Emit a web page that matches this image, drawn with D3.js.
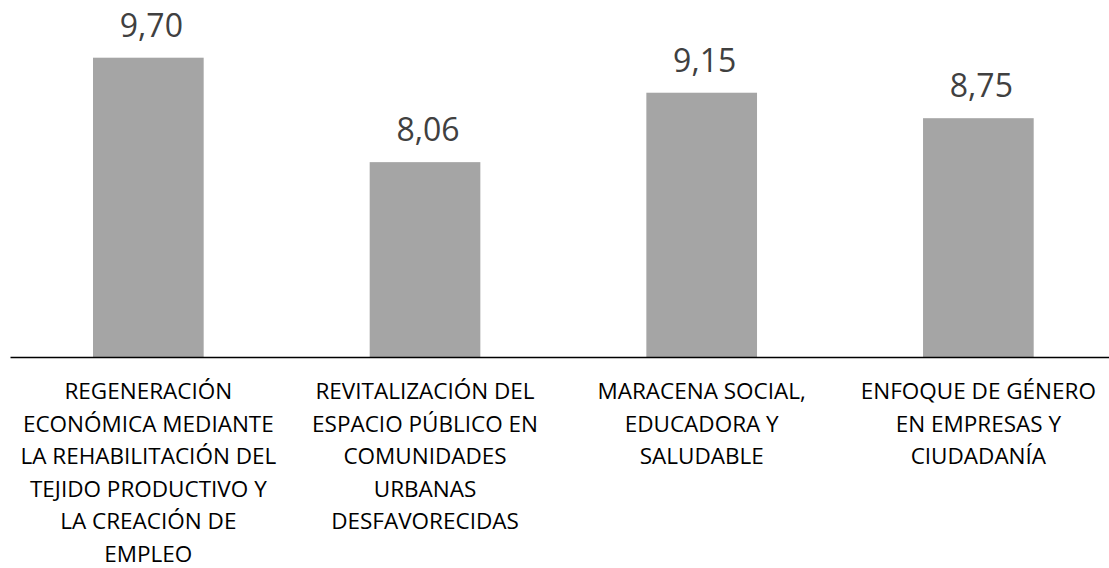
<!DOCTYPE html>
<html>
<head>
<meta charset="utf-8">
<script src="https://cdn.jsdelivr.net/npm/d3@7"></script>
<style>
  html, body { margin: 0; padding: 0; background: #fff; }
  svg { display: block; }
</style>
</head>
<body>
<svg id="chart" width="1109" height="568"></svg>
<script>
// Programme lines (each category label split into its display lines)
const categories = [
  "Regeneración económica",
  "Revitalización del espacio público",
  "Maracena social",
  "Enfoque de género"
];
const categoryLines = [
  ["REGENERACIÓN", "ECONÓMICA MEDIANTE", "LA REHABILITACIÓN DEL", "TEJIDO PRODUCTIVO Y", "LA CREACIÓN DE", "EMPLEO"],
  ["REVITALIZACIÓN DEL", "ESPACIO PÚBLICO EN", "COMUNIDADES", "URBANAS", "DESFAVORECIDAS"],
  ["MARACENA SOCIAL,", "EDUCADORA Y", "SALUDABLE"],
  ["ENFOQUE DE GÉNERO", "EN EMPRESAS Y", "CIUDADANÍA"]
];
// Score per line
const scores = [9.70, 8.06, 9.15, 8.75];
const yDomain = [5, 10];

const svg = d3.select("#chart");

const x = d3.scaleBand()
  .domain(categories)
  .range([10, 1116.7])
  .paddingInner(0.6)
  .paddingOuter(0.3);

const y = d3.scaleLinear()
  .domain(yDomain)
  .range([357, 38.6]);

const es = d3.formatLocale({ decimal: ",", thousands: ".", grouping: [3], currency: ["", " €"] });
const fmt = es.format(".2f");

// Bars
svg.append("g")
  .selectAll("rect")
  .data(categories)
  .join("rect")
  .attr("x", d => x(d))
  .attr("width", x.bandwidth())
  .attr("y", (d, i) => y(scores[i]))
  .attr("height", (d, i) => y(yDomain[0]) - y(scores[i]))
  .attr("fill", "#a5a5a5");

// Value labels
svg.append("g")
  .selectAll("text")
  .data(categories)
  .join("text")
  .attr("x", d => x(d) + x.bandwidth() / 2 + 3)
  .attr("y", (d, i) => y(scores[i]) - 21)
  .attr("text-anchor", "middle")
  .attr("font-family", "'Open Sans', sans-serif")
  .attr("font-size", 32)
  .attr("fill", "#404040")
  .text((d, i) => fmt(scores[i]));

// Category axis along the base
const axis = svg.append("g")
  .attr("transform", `translate(0,${y(yDomain[0])})`)
  .call(d3.axisBottom(x).tickSize(0).tickSizeOuter(0).tickPadding(0));

axis.select(".domain")
  .attr("stroke", "#000")
  .attr("stroke-width", 1.3);

axis.selectAll(".tick text").remove();
axis.selectAll(".tick")
  .append("text")
  .attr("text-anchor", "middle")
  .attr("font-family", "'Open Sans', sans-serif")
  .attr("font-size", 22.5)
  .attr("fill", "#000")
  .each(function(d) {
    const i = categories.indexOf(d);
    d3.select(this).selectAll("tspan")
      .data(categoryLines[i])
      .join("tspan")
      .attr("x", 0)
      .attr("y", (l, k) => 42 + k * 32.5)
      .text(l => l);
  });
</script>
</body>
</html>
